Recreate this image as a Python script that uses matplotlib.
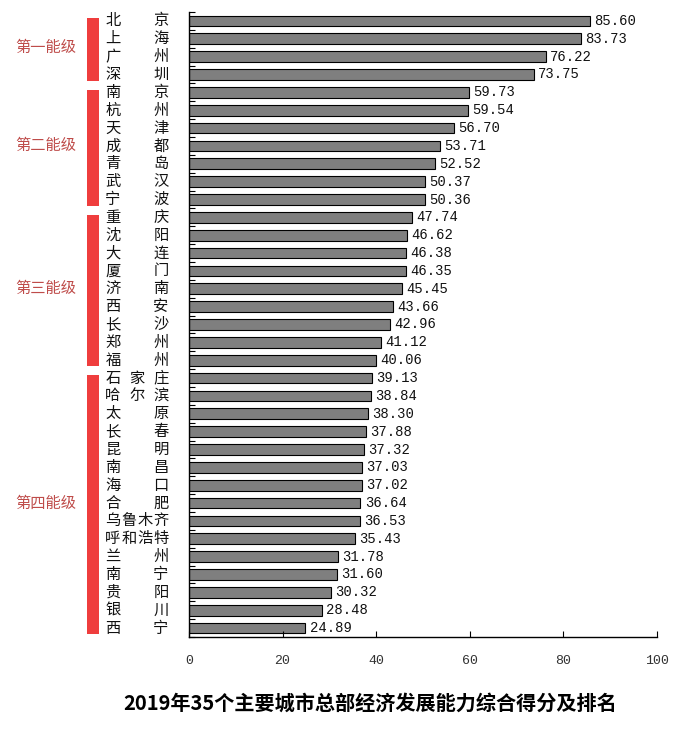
import matplotlib
matplotlib.use("Agg")
import matplotlib.pyplot as plt
import matplotlib.transforms as mtransforms
from matplotlib.patches import Rectangle

cities = ["北京", "上海", "广州", "深圳", "南京", "杭州", "天津", "成都", "青岛", "武汉",
          "宁波", "重庆", "沈阳", "大连", "厦门", "济南", "西安", "长沙", "郑州", "福州",
          "石家庄", "哈尔滨", "太原", "长春", "昆明", "南昌", "海口", "合肥", "乌鲁木齐",
          "呼和浩特", "兰州", "南宁", "贵阳", "银川", "西宁"]
scores = [85.60, 83.73, 76.22, 73.75, 59.73, 59.54, 56.70, 53.71, 52.52, 50.37,
          50.36, 47.74, 46.62, 46.38, 46.35, 45.45, 43.66, 42.96, 41.12, 40.06,
          39.13, 38.84, 38.30, 37.88, 37.32, 37.03, 37.02, 36.64, 36.53,
          35.43, 31.78, 31.60, 30.32, 28.48, 24.89]
group_names = ["第一能级", "第二能级", "第三能级", "第四能级"]
group_sizes = [4, 7, 9, 15]
x_ticks = [0, 20, 40, 60, 80, 100]
title = "2019年35个主要城市总部经济发展能力综合得分及排名"

plt.rcParams['font.family'] = ['Noto Sans CJK SC', 'DejaVu Sans']

W, H = 683, 730
fig = plt.figure(figsize=(W / 100, H / 100), dpi=100)
ax = fig.add_axes([189 / W, 1 - 637 / H, (657 - 189) / W, (637 - 12) / H])

n = len(cities)
ypos = list(range(n))
ax.barh(ypos, scores, height=0.6, color="#7f7f7f", edgecolor="black", linewidth=0.8)
ax.set_xlim(0, 100)
ax.set_ylim(n - 0.5, -0.5)

for y, v in zip(ypos, scores):
    ax.text(v + 0.9, y, f"{v:.2f}", ha="left", va="center", fontsize=10,
            family="Liberation Mono", color="#111111")

for s in ["top", "right"]:
    ax.spines[s].set_visible(False)
ax.spines["left"].set_linewidth(1.0)
ax.spines["bottom"].set_linewidth(1.0)

ax.set_xticks(x_ticks)
ax.set_xticklabels([str(t) for t in x_ticks], family="Liberation Mono", fontsize=9.5, color="#333333")
ax.tick_params(axis="x", direction="in", length=4, pad=13)
ax.set_yticks([i - 0.5 for i in range(n + 1)])
ax.set_yticklabels([])
ax.tick_params(axis="y", direction="in", length=4, width=0.8)

# city labels, spread between fixed left and right positions
blend = mtransforms.blended_transform_factory(fig.transFigure, ax.transData)
x_left, x_right = 113 / W, 161 / W
for y, name in zip(ypos, cities):
    k = len(name)
    for j, ch in enumerate(name):
        xc = x_left + (x_right - x_left) * j / (k - 1)
        ax.text(xc, y, ch, transform=blend, ha="center", va="center",
                fontsize=11, color="#111111", clip_on=False)

# group bars and labels
start = 0
for gname, size in zip(group_names, group_sizes):
    end = start + size - 1
    y0 = start - 0.5 + 0.35
    y1 = end + 0.5 - 0.15
    rect = Rectangle((86.5 / W, y0), 12 / W, y1 - y0, transform=blend,
                     facecolor="#ef3d3d", edgecolor="none", clip_on=False)
    ax.add_patch(rect)
    ax.text(46 / W, (start + end) / 2, gname, transform=blend, ha="center", va="center",
            fontsize=11, color="#bf4c4a", clip_on=False)
    start = end + 1

fig.text(370 / W, 1 - 703 / H, title, ha="center", va="center", fontsize=14.5,
         fontweight="bold", color="black")

fig.savefig("out.png", dpi=100, facecolor="white")
